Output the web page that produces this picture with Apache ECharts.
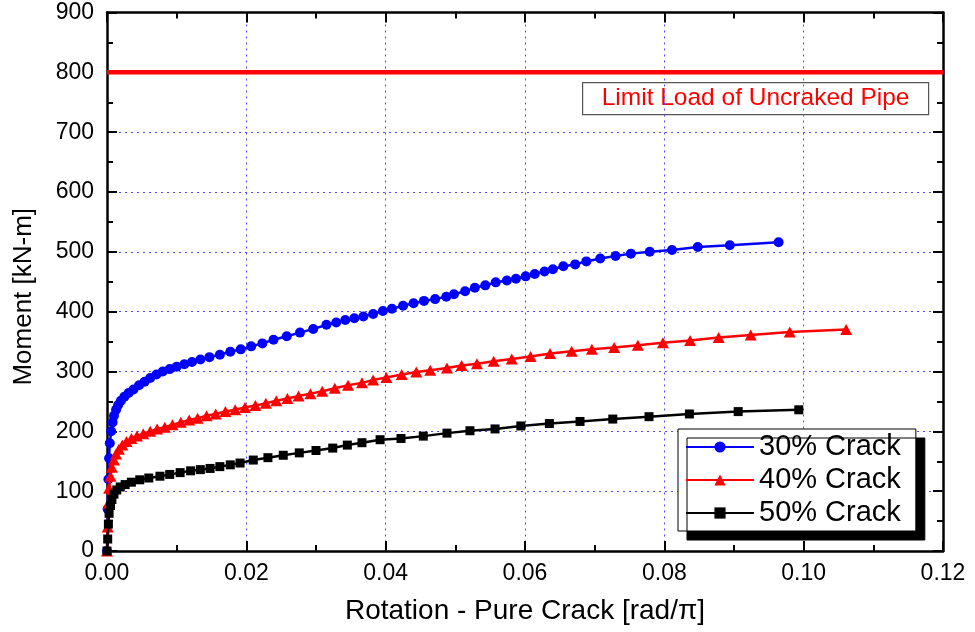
<!DOCTYPE html>
<html>
<head>
<meta charset="utf-8">
<script src="https://cdn.jsdelivr.net/npm/echarts@6/dist/echarts.min.js"></script>
<style>
  html, body { margin: 0; padding: 0; background: #fff; }
  #chart { width: 975px; height: 632px; }
</style>
</head>
<body>
<div id="chart"></div>
<script>
// Rotation [rad/pi] vs. moment [kN-m] for the three crack depths
const crack30X = [0, 0.0001, 0.0002, 0.0003, 0.0004, 0.0006, 0.0008, 0.001, 0.0013, 0.0016, 0.002, 0.0025, 0.0031, 0.0038, 0.0046, 0.0054, 0.0062, 0.0071, 0.008, 0.009, 0.01, 0.0111, 0.0122, 0.0134, 0.0147, 0.0162, 0.0177, 0.0192, 0.0207, 0.0223, 0.0239, 0.0258, 0.0277, 0.0296, 0.0315, 0.0329, 0.0342, 0.0355, 0.0368, 0.0382, 0.0396, 0.0409, 0.0425, 0.044, 0.0455, 0.0471, 0.0487, 0.0498, 0.0514, 0.0528, 0.0543, 0.0558, 0.0574, 0.0587, 0.0601, 0.0614, 0.0628, 0.064, 0.0655, 0.0672, 0.0688, 0.0708, 0.073, 0.0752, 0.0779, 0.0811, 0.0848, 0.0894, 0.0964];
const crack30Y = [0, 70, 120, 155, 180, 200, 215, 226, 236, 244, 251, 258, 264, 270, 277, 283, 289, 295, 300, 304, 308, 312, 316, 320, 324, 328, 333, 337, 342, 347, 353, 359, 365, 371, 378, 382, 386, 389, 392, 396, 401, 405, 410, 414, 418, 421, 425, 429, 434, 440, 444, 449, 452, 455, 459, 463, 467, 471, 476, 479, 484, 489, 493, 497, 500, 503, 508, 511, 516];

const crack40X = [0, 0.0001, 0.0002, 0.0003, 0.0005, 0.0007, 0.001, 0.0013, 0.0017, 0.0022, 0.0028, 0.0035, 0.0043, 0.0052, 0.0062, 0.0072, 0.0083, 0.0094, 0.0106, 0.0118, 0.013, 0.0143, 0.0156, 0.017, 0.0184, 0.0198, 0.0213, 0.0228, 0.0243, 0.0259, 0.0275, 0.0292, 0.0309, 0.0327, 0.0346, 0.0366, 0.0382, 0.0401, 0.0423, 0.0444, 0.0464, 0.0488, 0.0509, 0.0531, 0.0555, 0.0581, 0.0608, 0.0636, 0.0667, 0.0696, 0.0728, 0.0762, 0.0798, 0.0837, 0.0878, 0.0924, 0.098, 0.1061];
const crack40Y = [0, 40, 80, 105, 125, 140, 152, 162, 170, 177, 183, 188, 192, 196, 200, 204, 207, 211, 215, 219, 222, 226, 229, 233, 236, 240, 243, 247, 251, 255, 259, 263, 267, 272, 277, 281, 286, 290, 295, 299, 302, 306, 310, 313, 317, 321, 325, 330, 334, 337, 340, 344, 348, 352, 357, 361, 366, 370];

const crack50X = [0, 0.0001, 0.0002, 0.0003, 0.0005, 0.0007, 0.001, 0.0014, 0.0019, 0.0026, 0.0035, 0.0047, 0.006, 0.0076, 0.009, 0.0105, 0.012, 0.0134, 0.0148, 0.0162, 0.0177, 0.0191, 0.021, 0.0231, 0.0253, 0.0276, 0.03, 0.0324, 0.0345, 0.0366, 0.0392, 0.0422, 0.0454, 0.0488, 0.0521, 0.0557, 0.0594, 0.0635, 0.0679, 0.0726, 0.0778, 0.0836, 0.0906, 0.0993];
const crack50Y = [0, 20, 45, 63, 76, 86, 95, 102, 107, 111, 115, 119, 122, 125, 128, 131, 134, 136, 138, 141, 144, 147, 152, 156, 160, 164, 168, 172, 177, 181, 186, 188, 192, 197, 201, 204, 209, 213, 216.5, 220.5, 224.5, 229, 233, 236];

// Limit load of the uncracked pipe
const limitX = [0, 0.12];
const limitLoad = 800;
const limitLabel = 'Limit Load of Uncraked Pipe';

const seriesNames = ['30% Crack', '40% Crack', '50% Crack'];
const xTicks = { min: 0, max: 0.12, interval: 0.02 };
const yTicks = { min: 0, max: 900, interval: 100 };

const pair = (xs, ys) => xs.map((x, i) => [x, ys[i]]);

const FONT = 'Liberation Sans, Arial, sans-serif';
const gridLine = { show: true, lineStyle: { color: '#4d4dff', type: [2, 4], width: 1 } };

function baseAxis(extra, ticks) {
  return Object.assign({
    type: 'value',
    min: ticks.min, max: ticks.max, interval: ticks.interval,
    axisLine: { show: true, onZero: false, lineStyle: { color: '#000', width: 2.5 } },
    axisTick: { show: true, inside: true, length: 10, lineStyle: { color: '#000', width: 2 } },
    minorTick: { show: true, splitNumber: 2, length: 6, lineStyle: { color: '#000', width: 2 } },
    splitLine: { show: false }
  }, extra);
}

const chart = echarts.init(document.getElementById('chart'), null, { renderer: 'canvas' });

chart.setOption({
  animation: false,
  backgroundColor: '#fff',
  grid: { left: 107, right: 32, top: 12.5, bottom: 81 },
  xAxis: [
    baseAxis({
      position: 'bottom',
      name: 'Rotation - Pure Crack [rad/\u03C0]',
      nameLocation: 'middle',
      nameGap: 46,
      nameTextStyle: { fontFamily: FONT, fontSize: 28, color: '#000' },
      axisLabel: { fontFamily: FONT, fontSize: 23, color: '#000', margin: 11,
        formatter: v => v.toFixed(2) },
      splitLine: gridLine
    }, xTicks),
    baseAxis({ position: 'top', axisLabel: { show: false } }, xTicks)
  ],
  yAxis: [
    baseAxis({
      position: 'left',
      name: 'Moment [kN-m]',
      nameLocation: 'middle',
      nameGap: 70,
      nameTextStyle: { fontFamily: FONT, fontSize: 26, color: '#000', padding: [0, 30, 0, 0] },
      axisLabel: { fontFamily: FONT, fontSize: 23, color: '#000', margin: 13 },
      splitLine: gridLine
    }, yTicks),
    baseAxis({ position: 'right', axisLabel: { show: false } }, yTicks)
  ],
  legend: {
    data: seriesNames,
    orient: 'vertical',
    left: 678,
    top: 429,
    padding: [3, 15, 3, 7],
    itemGap: 3,
    itemWidth: 68,
    itemHeight: 14,
    backgroundColor: '#fff',
    borderColor: '#000',
    borderWidth: 1,
    borderRadius: 0,
    shadowColor: '#000',
    shadowBlur: 0,
    shadowOffsetX: 9,
    shadowOffsetY: 9,
    textStyle: { fontFamily: FONT, fontSize: 29, color: '#000', lineHeight: 30 }
  },
  graphic: [{
    type: 'group',
    left: 582,
    top: 82,
    children: [
      { type: 'rect', shape: { x: 0, y: 0, width: 346, height: 32 },
        style: { fill: '#fff', stroke: '#555', lineWidth: 1.2 } },
      { type: 'text', x: 173, y: 16,
        style: { text: limitLabel, fontFamily: FONT, fontSize: 24.5, fill: '#ff0000',
          align: 'center', verticalAlign: 'middle' } }
    ]
  }],
  series: [
    {
      name: 'Limit Load', type: 'line', silent: true,
      data: limitX.map(x => [x, limitLoad]),
      symbol: 'none',
      lineStyle: { color: '#ff0000', width: 4.5 },
      z: 3
    },
    {
      name: seriesNames[0], type: 'line',
      data: pair(crack30X, crack30Y),
      symbol: 'circle', symbolSize: 10,
      itemStyle: { color: '#0000ff' },
      lineStyle: { color: '#0000ff', width: 2.5 },
      z: 4
    },
    {
      name: seriesNames[1], type: 'line',
      data: pair(crack40X, crack40Y),
      symbol: 'triangle', symbolSize: [12, 11],
      itemStyle: { color: '#ff0000' },
      lineStyle: { color: '#ff0000', width: 2.5 },
      z: 5
    },
    {
      name: seriesNames[2], type: 'line',
      data: pair(crack50X, crack50Y),
      symbol: 'rect', symbolSize: 9,
      itemStyle: { color: '#000' },
      lineStyle: { color: '#000', width: 2.5 },
      z: 6
    }
  ]
});
</script>
</body>
</html>
